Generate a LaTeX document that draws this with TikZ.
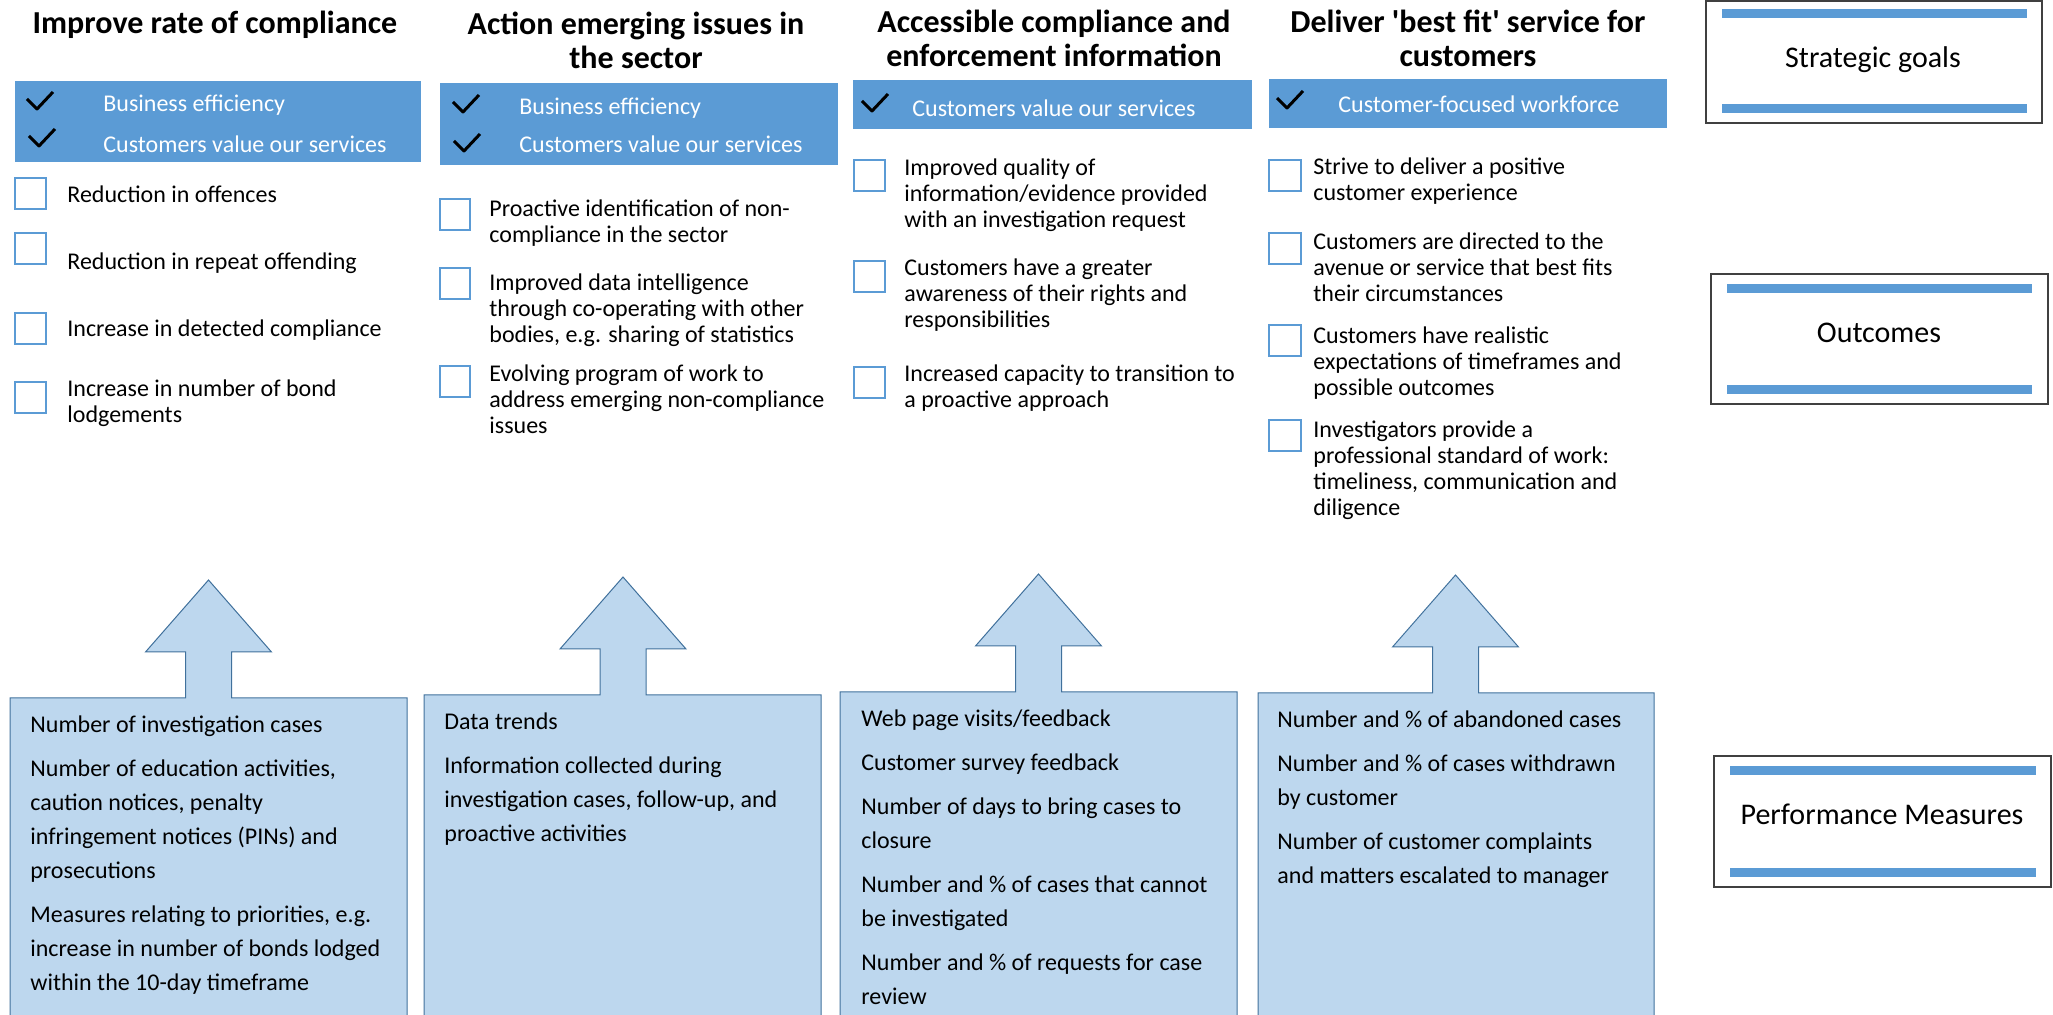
\documentclass[tikz,border=0pt]{standalone}
\usepackage{fontspec}
\setmainfont{Carlito}
\definecolor{goalblue}{HTML}{5B9BD5}
\definecolor{measurefill}{HTML}{BDD7EE}
\definecolor{measureline}{HTML}{41719C}
\def\bodyfont{\fontsize{12}{13}\selectfont}
\def\headfont{\fontsize{16}{17}\selectfont\bfseries}
\def\measurefont{\fontsize{12}{17}\selectfont}
% box with an arrow on top: (left, right, top, arrow centre)
\def\measurebox(#1,#2,#3,#4){\draw[measure] (#1,1017) -- (#1,#3) -- (#4-23,#3) -- (#4-23,#3-46) -- (#4-63,#3-46) -- (#4,#3-118) -- (#4+63,#3-46) -- (#4+23,#3-46) -- (#4+23,#3) -- (#2,#3) -- (#2,1017) -- cycle;}
\tikzset{
	heading/.style={anchor=north, align=center, inner sep=0pt, font=\headfont},
	itemtext/.style={anchor=north west, align=left, inner sep=0pt, font=\bodyfont},
	bannertext/.style={anchor=west, inner sep=0pt, font=\bodyfont, text=white},
	measuretext/.style={anchor=north west, align=left, inner sep=0pt, font=\measurefont},
	tickbox/.style={draw=goalblue, line width=1.2pt},
	measure/.style={draw=measureline, line width=0.5pt, fill=measurefill},
	keybox/.style={draw=black!75, line width=0.8pt},
	keytext/.style={anchor=base, inner sep=0pt, font=\fontsize{15}{17}\selectfont},
	checkmark/.pic={\draw[line width=1.5pt, line join=round] (0,0) -- (10,10) -- (26,-7);}
}

\begin{document}
\begin{tikzpicture}[x=0.5pt, y=-0.5pt]
			%%%%% START %%%%%
			\useasboundingbox (0,0) rectangle (2053,1015);
			\clip (0,0) rectangle (2053,1015);
			
			% goal headings
			\node[heading] (head1) at (215,11) {Improve rate of compliance};
			\node[heading] (head2) at (636,12) {Action emerging issues in\\the sector};
			\node[heading] (head3) at (1054,10) {Accessible compliance and\\enforcement information};
			\node[heading] (head4) at (1468,10) {Deliver \textquotesingle best fit\textquotesingle\ service for\\customers};
			
			% blue banners
			\fill[goalblue] (15,81) rectangle (421,162);
			\pic at (27,99) {checkmark};
			\pic at (29,136) {checkmark};
			\node[bannertext] (ban1a) at (103,105) {Business efficiency};
			\node[bannertext] (ban1b) at (103,144) {Customers value our services};
			
			\fill[goalblue] (440,83) rectangle (838,165);
			\pic at (453,102) {checkmark};
			\pic at (454,141) {checkmark};
			\node[bannertext] (ban2a) at (519,108) {Business efficiency};
			\node[bannertext] (ban2b) at (519,144) {Customers value our services};
			
			\fill[goalblue] (853,80) rectangle (1252,129);
			\pic at (862,101) {checkmark};
			\node[bannertext] (ban3a) at (912,108) {Customers value our services};
			
			\fill[goalblue] (1269,79) rectangle (1667,128);
			\pic at (1277,98) {checkmark};
			\node[bannertext] (ban4a) at (1338,104) {Customer-focused workforce};
			
			% outcomes, column 1
			\draw[tickbox] (15,178) rectangle +(31,31);
			\draw[tickbox] (15,233) rectangle +(31,31);
			\draw[tickbox] (15,313) rectangle +(31,31);
			\draw[tickbox] (15,382) rectangle +(31,31);
			\node[itemtext] (out1a) at (67,185) {Reduction in offences};
			\node[itemtext] (out1b) at (67,252) {Reduction in repeat offending};
			\node[itemtext] (out1c) at (67,319) {Increase in detected compliance};
			\node[itemtext] (out1d) at (67,379) {Increase in number of bond\\lodgements};
			
			% outcomes, column 2
			\draw[tickbox] (440,199) rectangle +(30,31);
			\draw[tickbox] (440,268) rectangle +(30,31);
			\draw[tickbox] (440,366) rectangle +(30,31);
			\node[itemtext] (out2a) at (489,199) {Proactive identification of non-\\compliance in the sector};
			\node[itemtext] (out2b) at (489,273) {Improved data intelligence\\through co-operating with other\\bodies, e.g. sharing of statistics};
			\node[itemtext] (out2c) at (489,364) {Evolving program of work to\\address emerging non-compliance\\issues};
			
			% outcomes, column 3
			\draw[tickbox] (854,160) rectangle +(31,31);
			\draw[tickbox] (854,261) rectangle +(31,31);
			\draw[tickbox] (854,367) rectangle +(31,31);
			\node[itemtext] (out3a) at (904,158) {Improved quality of\\information/evidence provided\\with an investigation request};
			\node[itemtext] (out3b) at (904,258) {Customers have a greater\\awareness of their rights and\\responsibilities};
			\node[itemtext] (out3c) at (904,364) {Increased capacity to transition to\\a proactive approach};
			
			% outcomes, column 4
			\draw[tickbox] (1269,160) rectangle +(32,31);
			\draw[tickbox] (1269,233) rectangle +(32,31);
			\draw[tickbox] (1269,325) rectangle +(32,31);
			\draw[tickbox] (1269,420) rectangle +(32,31);
			\node[itemtext] (out4a) at (1313,157) {Strive to deliver a positive\\customer experience};
			\node[itemtext] (out4b) at (1313,232) {Customers are directed to the\\avenue or service that best fits\\their circumstances};
			\node[itemtext] (out4c) at (1313,326) {Customers have realistic\\expectations of timeframes and\\possible outcomes};
			\node[itemtext] (out4d) at (1313,420) {Investigators provide a\\professional standard of work:\\timeliness, communication and\\diligence};
			
			% measures with arrows
			\measurebox(10,407,698,208.5)
			\measurebox(424,821,695,623)
			\measurebox(840,1237,692,1038.5)
			\measurebox(1258,1654,693,1455.5)
			
			\node[measuretext] (pm1) at (30,715) {Number of investigation cases\\[5pt]Number of education activities,\\caution notices, penalty\\infringement notices (PINs) and\\prosecutions\\[5pt]Measures relating to priorities, e.g.\\increase in number of bonds lodged\\within the 10-day timeframe};
			\node[measuretext] (pm2) at (444,712) {Data trends\\[5pt]Information collected during\\investigation cases, follow-up, and\\proactive activities};
			\node[measuretext] (pm3) at (861,709) {Web page visits/feedback\\[5pt]Customer survey feedback\\[5pt]Number of days to bring cases to\\closure\\[5pt]Number and \% of cases that cannot\\be investigated\\[5pt]Number and \% of requests for case\\review};
			\node[measuretext] (pm4) at (1277,710) {Number and \% of abandoned cases\\[5pt]Number and \% of cases withdrawn\\by customer\\[5pt]Number of customer complaints\\and matters escalated to manager};
			
			% key boxes on the right
			\draw[keybox] (1706,1) rectangle (2042,123);
			\fill[goalblue] (1722,9) rectangle (2027,18);
			\fill[goalblue] (1722,104) rectangle (2027,113);
			\node[keytext] (keygoals) at (1873,68) {Strategic goals};
			
			\draw[keybox] (1711,274) rectangle (2048,404);
			\fill[goalblue] (1727,284) rectangle (2032,293);
			\fill[goalblue] (1727,385) rectangle (2032,394);
			\node[keytext] (keyout) at (1879,343) {Outcomes};
			
			\draw[keybox] (1714,756) rectangle (2051,887);
			\fill[goalblue] (1730,766) rectangle (2036,775);
			\fill[goalblue] (1730,868) rectangle (2036,877);
			\node[keytext] (keypm) at (1882,825) {Performance Measures};
			
			%%%%% END %%%%%
\end{tikzpicture}
\end{document}
